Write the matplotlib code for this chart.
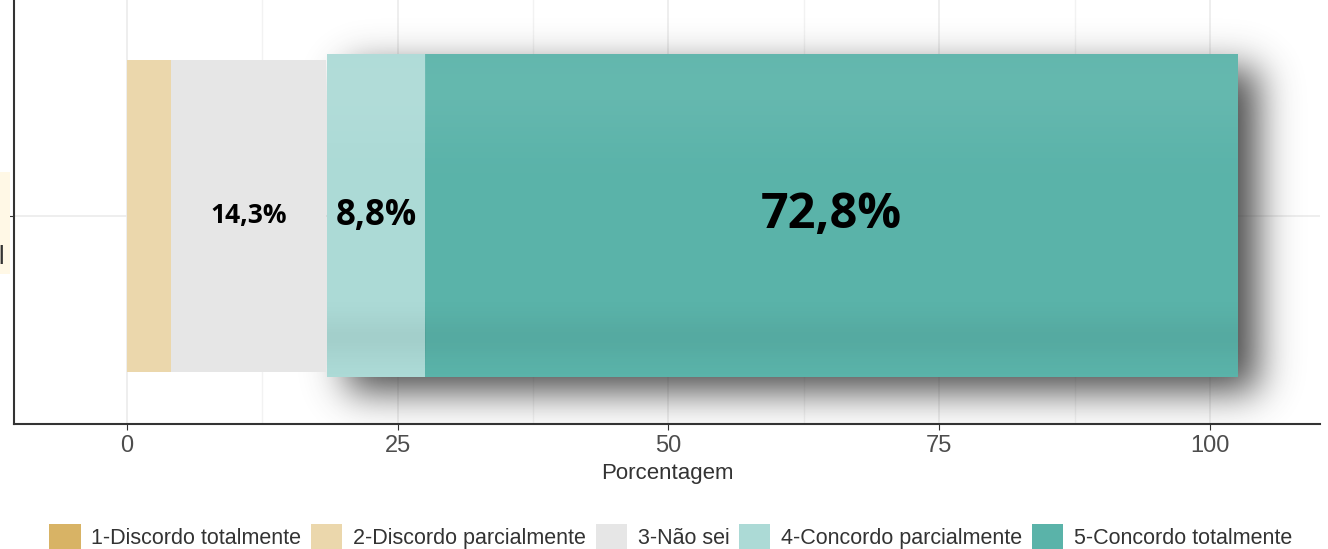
import numpy as np
import matplotlib
matplotlib.use("Agg")
import matplotlib.pyplot as plt
from matplotlib.patches import Patch
from matplotlib.transforms import Affine2D

# data
categories = ["1-Discordo totalmente", "2-Discordo parcialmente", "3-Não sei",
              "4-Concordo parcialmente", "5-Concordo totalmente"]
percent = [0.0, 4.1, 14.3, 8.8, 72.8]
bar_labels = ["", "", "14,3%", "8,8%", "72,8%"]
x_ticks = [0, 25, 50, 75, 100]
row_label = "\n\nl"

colors = ["#d8b365", "#ebd7ac", "#e6e6e6", "#acdad6", "#5ab3a9"]
label_sizes = [0, 0, 19, 25, 35]
highlight = [False, False, False, True, True]

plt.rcParams["font.family"] = ["Liberation Sans", "DejaVu Sans"]

fig = plt.figure(figsize=(13.28, 5.49), dpi=100)
ax = fig.add_axes([14 / 1328, 1 - 424 / 549, 1306 / 1328, 424 / 549])

xmin, xmax = -10.43, 110.16
ymin, ymax = 0.411, 1.611
ax.set_xlim(xmin, xmax)
ax.set_ylim(ymin, ymax)

# grid
for v in x_ticks:
    ax.axvline(v, color="#ebebeb", lw=1.2, zorder=0)
for v in [12.5, 37.5, 62.5, 87.5]:
    ax.axvline(v, color="#f2f2f2", lw=1.0, zorder=0)
ax.axhline(1, color="#ebebeb", lw=1.2, zorder=0)

bar_h = 0.883
# highlighted group is drawn slightly enlarged, like a hover effect
zoom = Affine2D().translate(-15, -1).scale(1.03, 1.035).translate(15, 1)

# soft vertical shading used on the highlighted bars (top of image = top of bar)
t = np.linspace(0, 1, 200)
light = 0.07 * np.exp(-((t - 0.1) / 0.18) ** 2)
dark = 0.05 * np.exp(-((t - 0.88) / 0.07) ** 2)
shade = np.zeros((200, 1, 4))
shade[:, 0, :3] = np.where(light > dark, 1.0, 0.0)[:, None]
shade[:, 0, 3] = np.maximum(light, dark)

left = 0.0
for name, val, col, lab, fs, hl in zip(categories, percent, colors, bar_labels,
                                        label_sizes, highlight):
    rect = ax.barh(1, val, left=left, height=bar_h, color=col, lw=0,
                   zorder=3 if hl else 2)[0]
    cx = left + val / 2
    if hl:
        rect.set_transform(zoom + ax.transData)
        cx = zoom.transform((cx, 1))[0]
        bx0, by0 = zoom.transform((left, 1 - bar_h / 2))
        bx1, by1 = zoom.transform((left + val, 1 + bar_h / 2))
        im = ax.imshow(shade, extent=(bx0, bx1, by0, by1), aspect="auto",
                       interpolation="bilinear", zorder=3.5)
        im.set_clip_path(rect)
    if lab:
        ax.text(cx, 1, lab, ha="center", va="center", fontsize=fs,
                fontweight="bold", family=["Open Sans", "DejaVu Sans"],
                color="black", zorder=5)
    left += val

# soft drop shadow behind the highlighted group
start = sum(percent[:3])
gx0, gy0 = zoom.transform((start, 1 - bar_h / 2))
gx1, gy1 = zoom.transform((left, 1 + bar_h / 2))
pxx = 1306 / (xmax - xmin)
pxy = 424 / (ymax - ymin)
m, sig, dx, dy = 110, 19.0, 20, 14
w_px = int(round((gx1 - gx0) * pxx))
h_px = int(round((gy1 - gy0) * pxy))
k = np.exp(-0.5 * (np.arange(-4 * sig, 4 * sig + 1) / sig) ** 2)
k /= k.sum()
prof_x = np.zeros(w_px + 2 * m)
prof_x[m:m + w_px] = 1
prof_x = np.convolve(prof_x, k, mode="same")
prof_y = np.zeros(h_px + 2 * m)
prof_y[m:m + h_px] = 1
prof_y = np.convolve(prof_y, k, mode="same")
alpha = np.outer(prof_y, prof_x) * 0.95
shadow = np.zeros(alpha.shape + (4,))
shadow[..., :3] = 0.25
shadow[..., 3] = alpha
ax.imshow(shadow, extent=(gx0 + (dx - m) / pxx, gx1 + (dx + m) / pxx,
                          gy0 - (dy + m) / pxy, gy1 + (m - dy) / pxy),
          aspect="auto", interpolation="bilinear", zorder=1)
ax.set_xlim(xmin, xmax)
ax.set_ylim(ymin, ymax)

for s in ["top", "right"]:
    ax.spines[s].set_visible(False)
for s in ["left", "bottom"]:
    ax.spines[s].set_color("#333333")
    ax.spines[s].set_linewidth(1.5)

ax.set_xticks(x_ticks)
ax.set_xticklabels([str(v) for v in x_ticks], fontsize=17, color="#4d4d4d")
ax.tick_params(axis="x", length=4, color="#333333", pad=4)
ax.set_yticks([1])
ax.set_yticklabels([row_label], fontsize=18, color="#333333", linespacing=1.5,
                   bbox=dict(facecolor="#fff8e6", edgecolor="none", pad=4))
ax.tick_params(axis="y", length=4, color="#333333", pad=3)
ax.set_xlabel("Porcentagem", fontsize=16, color="#333333", labelpad=4)

handles = [Patch(facecolor=c, edgecolor="none") for c in colors]
fig.legend(handles, categories, loc="lower center", bbox_to_anchor=(0.505, -0.035),
           ncol=5, frameon=False, fontsize=15.5, handlelength=1.45, handleheight=1.4,
           handletextpad=0.5, columnspacing=0.45, labelcolor="#333333")

fig.savefig("out.png", dpi=100)
